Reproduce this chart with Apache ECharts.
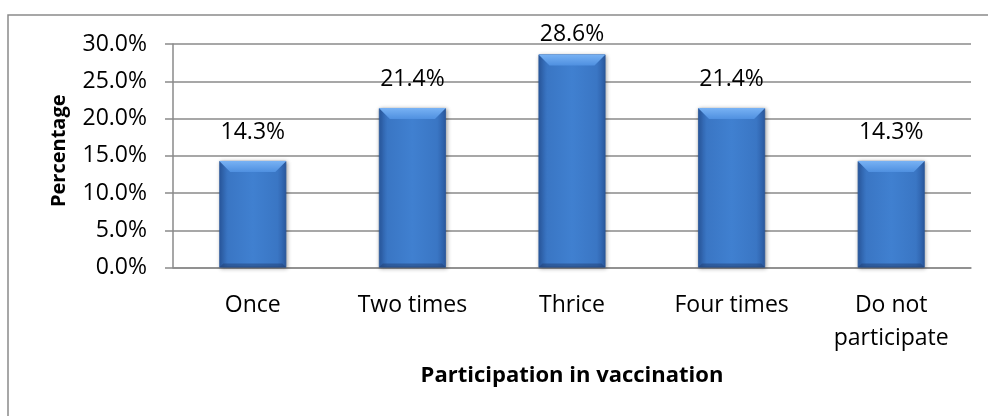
<!DOCTYPE html>
<html>
<head>
<meta charset="utf-8">
<script src="https://cdn.jsdelivr.net/npm/echarts@6/dist/echarts.min.js"></script>
<style>
  html, body { margin: 0; padding: 0; background: #fff; }
  #chart { width: 988px; height: 416px; }
</style>
</head>
<body>
<div id="chart"></div>
<script>
// Share of respondents by number of vaccination rounds attended
const categories = ['Once', 'Two times', 'Thrice', 'Four times', 'Do not\nparticipate'];
const percentages = [14.3, 21.4, 28.6, 21.4, 14.3];
const yTicks = [0, 5, 10, 15, 20, 25, 30];

const FONT = '"Open Sans", "Noto Sans", sans-serif';
const GRAY = '#8a8a8a';

const barFill = {
  type: 'linear', x: 0, y: 0, x2: 1, y2: 0,
  colorStops: [
    { offset: 0, color: '#2b5ba3' },
    { offset: 0.13, color: '#3a76c4' },
    { offset: 0.5, color: '#4080d0' },
    { offset: 0.87, color: '#3a76c4' },
    { offset: 1, color: '#2b5ba3' }
  ]
};

const maxVal = Math.max(...percentages);
const barData = percentages.map(v => ({
  value: v,
  label: { distance: v === maxVal ? 8 : 17 }
}));

// Bevelled top and bottom edges drawn over each bar
function renderBevel(params, api) {
  const idx = api.value(0);
  const top = api.coord([idx, api.value(1)]);
  const base = api.coord([idx, 0]);
  const w = api.size([1, 0])[0] * 0.42;
  const x0 = top[0] - w / 2, x1 = top[0] + w / 2;
  const y0 = top[1], y1 = base[1];
  const b = 11;
  return {
    type: 'group',
    silent: true,
    children: [{
      type: 'polygon',
      shape: { points: [[x0, y0], [x1, y0], [x1 - b, y0 + b], [x0 + b, y0 + b]] },
      style: {
        fill: {
          type: 'linear', x: 0, y: 0, x2: 0, y2: 1,
          colorStops: [{ offset: 0, color: '#78b2f4' }, { offset: 1, color: '#4f90e0' }]
        }
      }
    }, {
      type: 'polygon',
      shape: { points: [[x0, y1], [x1, y1], [x1 - 4, y1 - 4], [x0 + 4, y1 - 4]] },
      style: { fill: 'rgba(30,60,110,0.45)' }
    }]
  };
}

const chart = echarts.init(document.getElementById('chart'), null, { renderer: 'canvas' });
chart.setOption({
  animation: false,
  backgroundColor: '#fff',
  graphic: [{
    type: 'rect',
    shape: { x: 8, y: 15, width: 1000, height: 420 },
    style: { fill: 'none', stroke: GRAY, lineWidth: 1.5 },
    silent: true
  }],
  grid: { left: 173, right: 17, top: 44, bottom: 148.5 },
  xAxis: {
    type: 'category',
    data: categories,
    name: 'Participation in vaccination',
    nameLocation: 'middle',
    nameGap: 97,
    nameTextStyle: { fontFamily: FONT, fontSize: 22, fontWeight: 'bold', color: '#000' },
    axisLine: { lineStyle: { color: GRAY, width: 1.5 } },
    axisTick: { show: false },
    axisLabel: { fontFamily: FONT, fontSize: 23, color: '#000', margin: 21, lineHeight: 33, interval: 0 }
  },
  yAxis: {
    type: 'value',
    min: yTicks[0],
    max: yTicks[yTicks.length - 1],
    interval: yTicks[1] - yTicks[0],
    name: 'Percentage',
    nameLocation: 'middle',
    nameGap: 104,
    nameRotate: 90,
    nameTextStyle: { fontFamily: FONT, fontSize: 20, fontWeight: 'bold', color: '#000', padding: [0, 0, 0, 10] },
    axisLine: { show: true, lineStyle: { color: GRAY, width: 1.5 } },
    axisTick: { show: true, length: 8, lineStyle: { color: GRAY, width: 1.5 } },
    splitLine: { lineStyle: { color: GRAY, width: 1.5 } },
    axisLabel: {
      fontFamily: FONT, fontSize: 23, color: '#000', margin: 26,
      formatter: v => v.toFixed(1) + '%'
    }
  },
  series: [{
    type: 'bar',
    data: barData,
    barWidth: '42%',
    itemStyle: {
      color: barFill,
      borderColor: '#2a5799',
      borderWidth: 0.8,
      shadowColor: 'rgba(0,0,0,0.35)',
      shadowBlur: 4,
      shadowOffsetX: 1,
      shadowOffsetY: 1
    },
    label: {
      show: true,
      position: 'top',
      fontFamily: FONT,
      fontSize: 23,
      color: '#000',
      formatter: p => p.value.toFixed(1) + '%'
    }
  }, {
    type: 'custom',
    renderItem: renderBevel,
    data: percentages.map((v, i) => [i, v]),
    z: 3
  }]
});
</script>
</body>
</html>
